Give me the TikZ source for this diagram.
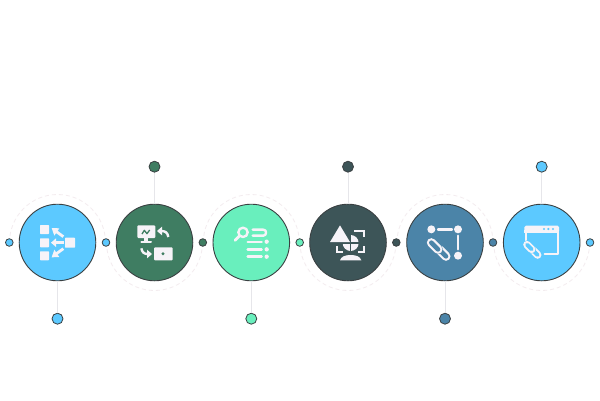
\documentclass[tikz,border=0pt]{standalone}
\definecolor{cblue}{HTML}{5CC9FF}
\definecolor{cgreen}{HTML}{3F7D62}
\definecolor{cmint}{HTML}{69EFBD}
\definecolor{cdark}{HTML}{3D5558}
\definecolor{csteel}{HTML}{4B84A8}
\definecolor{cline}{HTML}{3A4042}
\definecolor{cconn}{HTML}{E6E6EA}
\definecolor{chalo}{HTML}{F3ECEF}
\definecolor{cicon}{HTML}{F6F3F8}
\tikzset{
  bigdisc/.style={circle,draw=cline,line width=.9pt,minimum size=76.6pt,inner sep=0pt,fill=#1},
  smalldot/.style={circle,draw=cline,line width=.8pt,minimum size=7.6pt,inner sep=0pt,fill=#1},
  enddot/.style={circle,draw=cline,line width=.8pt,minimum size=11pt,inner sep=0pt,fill=#1},
  conn/.style={draw=cconn,line width=1pt},
  halo/.style={draw=chalo,line width=.8pt,dash pattern=on 4pt off 3pt},
  iconbox/.style={shift={(#1,215)},x=.33333pt,y=-.33333pt},
  ink/.style={draw=cicon,line width=#1,line cap=round,line join=round}
}
% centre x, centre y, half offset, outer width, inner width, background
\newcommand{\chainlink}[6]{%
  \draw[line cap=round,#6,line width=#4pt+.8pt] ({#1-#3},{#2-#3}) -- ({#1+#3},{#2+#3});
  \draw[line cap=round,cicon,line width=#4pt] ({#1-#3},{#2-#3}) -- ({#1+#3},{#2+#3});
  \draw[line cap=round,#6,line width=#5pt] ({#1-#3},{#2-#3}) -- ({#1+#3},{#2+#3});
}
\begin{document}
\begin{tikzpicture}[x=1pt,y=-1pt]
\fill[white] (0,0) rectangle (600,400);
\useasboundingbox (0,0) rectangle (600,400);
% halos
\draw[halo] (105.5,242.5) arc[start angle=0,end angle=-180,radius=48];
\draw[halo] (202.5,242.5) arc[start angle=0,end angle=180,radius=48];
\draw[halo] (299.3,242.5) arc[start angle=0,end angle=-180,radius=48];
\draw[halo] (396,242.5) arc[start angle=0,end angle=180,radius=48];
\draw[halo] (493,242.5) arc[start angle=0,end angle=-180,radius=48];
\draw[halo] (589.7,242.5) arc[start angle=0,end angle=180,radius=48];
% main discs
\node[bigdisc=cblue]  (d1) at (57.5,242.5) {};
\node[bigdisc=cgreen] (d2) at (154.5,242.5) {};
\node[bigdisc=cmint]  (d3) at (251.3,242.5) {};
\node[bigdisc=cdark]  (d4) at (348,242.5) {};
\node[bigdisc=csteel] (d5) at (445,242.5) {};
\node[bigdisc=cblue]  (d6) at (541.7,242.5) {};
% small dots on the axis
\node[smalldot=cblue]  (s0) at (9.3,242.5) {};
\node[smalldot=cblue]  (s1) at (106,242.5) {};
\node[smalldot=cgreen] (s2) at (202.8,242.5) {};
\node[smalldot=cmint]  (s3) at (299.7,242.5) {};
\node[smalldot=cdark]  (s4) at (396.3,242.5) {};
\node[smalldot=csteel] (s5) at (493,242.5) {};
\node[smalldot=cblue]  (s6) at (590,242.5) {};
% end dots
\node[enddot=cblue]  (e1) at (57.5,318.7) {};
\node[enddot=cgreen] (e2) at (154.5,166.7) {};
\node[enddot=cmint]  (e3) at (251.3,318.7) {};
\node[enddot=cdark]  (e4) at (348,166.7) {};
\node[enddot=csteel] (e5) at (445,318.7) {};
\node[enddot=cblue]  (e6) at (541.7,166.7) {};
% connectors
\foreach \i in {1,...,6} \draw[conn] (d\i) -- (e\i);
% icon 1
\begin{scope}[iconbox=30]
  \fill[cicon,rounded corners=.6pt] (30,30) rectangle (57,57);
  \fill[cicon,rounded corners=.6pt] (30,70) rectangle (57,97);
  \fill[cicon,rounded corners=.6pt] (30,109) rectangle (57,136);
  \fill[cicon,rounded corners=.6pt] (105,68) rectangle (135,98);
  \draw[ink=2.8pt,line cap=butt] (100,65) -- (78,49);
  \fill[cicon] (65,39) -- (88,40) -- (73,62) -- cycle;
  \draw[ink=2.8pt,line cap=butt] (102,83) -- (78,83);
  \fill[cicon] (63,83) -- (78,70) -- (78,96) -- cycle;
  \draw[ink=2.8pt,line cap=butt] (100,101) -- (78,117);
  \fill[cicon] (65,127) -- (73,104) -- (88,126) -- cycle;
\end{scope}
% icon 2
\begin{scope}[iconbox=127]
  \fill[cicon,rounded corners=1pt] (31,31) rectangle (85,69);
  \fill[cicon] (52,66) rectangle (63,81);
  \draw[ink=2pt] (43,80) -- (72,80);
  \draw[cgreen,line width=1.3pt,line join=round] (45,57) -- (52,46) -- (60,56) -- (68,45);
  \draw[ink=2.4pt,line cap=butt] (124,66) .. controls (122,52) and (114,48) .. (103,48);
  \fill[cicon] (105,35) -- (90,48) -- (105,61) -- cycle;
  \draw[ink=2.4pt,line cap=butt] (43,100) .. controls (45,112) and (52,117) .. (62,117);
  \fill[cicon] (60,104) -- (75,117) -- (60,130) -- cycle;
  \fill[cicon,rounded corners=1pt] (81,97) rectangle (137,136);
  \fill[cgreen] (108,116) circle[radius=5];
\end{scope}
% icon 3
\begin{scope}[iconbox=224]
  \draw[ink=2.4pt] (57,52) circle[radius=14];
  \draw[ink=2.8pt] (46,63) -- (33,76);
  \draw[ink=2.4pt] (86,44) -- (118,44) .. controls (129,44) and (129,62) .. (118,62) -- (86,62);
  \draw[ink=2.4pt] (71,81) -- (113,81);
  \draw[ink=2.4pt] (71,103) -- (113,103);
  \draw[ink=2.4pt] (71,125) -- (113,125);
  \fill[cicon] (128,80) circle[radius=6.5];
  \fill[cicon] (128,103) circle[radius=6.5];
  \fill[cicon] (128,125) circle[radius=6.5];
\end{scope}
% icon 4
\begin{scope}[iconbox=321]
  \draw[ink=2.2pt,line cap=butt,line join=miter] (100,47) -- (130,47) -- (130,66);
  \draw[ink=2.2pt,line cap=butt,line join=miter] (130,94) -- (130,112) -- (110,112);
  \draw[ink=2.2pt,line cap=butt,line join=miter] (47,94) -- (47,112) -- (66,112);
  \fill[cicon] (89,84) circle[radius=24];
  \draw[cdark,line width=1.1pt] (89,55) -- (89,115);
  \draw[cdark,line width=1.1pt] (60,84) -- (118,84);
  \fill[cdark] (89,84) -- (60,84) -- (60,50) -- (89,50) -- cycle;
  \fill[cicon] (27,81) -- (57,31) -- (87,81) -- cycle;
  \fill[cicon] (57,136) .. controls (60,125) and (72,120) .. (89,120) .. controls (106,120) and (118,125) .. (121,136) -- cycle;
\end{scope}
% icon 5
\begin{scope}[iconbox=418]
  \fill[cicon] (40,43) circle[radius=12];
  \fill[cicon] (120,43) circle[radius=12];
  \fill[cicon] (120,122) circle[radius=12];
  \draw[ink=2.4pt] (60,43) -- (102,43);
  \draw[ink=2.4pt] (120,62) -- (120,103);
  \chainlink{74}{114}{10}{9}{4.6}{csteel}
  \chainlink{50}{93}{10}{9}{4.6}{csteel}
\end{scope}
% icon 6
\begin{scope}[iconbox=514]
  \fill[cicon,rounded corners=1.5pt] (31,32) rectangle (135,53);
  \fill[cicon] (31,45) rectangle (135,53);
  \draw[ink=2.2pt] (36,50) -- (36,76);
  \draw[ink=2.2pt] (131,50) -- (131,118) -- (92,118);
  \fill[cblue] (90,42) circle[radius=3.6];
  \fill[cblue] (103,42) circle[radius=3.6];
  \fill[cblue] (117,42) circle[radius=3.6];
  \chainlink{64}{113}{7}{7.6}{3.8}{cblue}
  \chainlink{46}{96}{7}{7.6}{3.8}{cblue}
\end{scope}
\end{tikzpicture}
\end{document}
